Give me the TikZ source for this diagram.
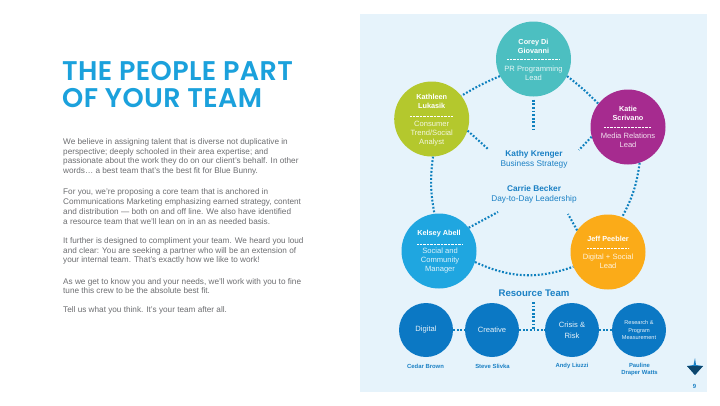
\documentclass[tikz,border=0pt]{standalone}
\usepackage{fontspec}
\setmainfont{Liberation Sans}
\newfontfamily\titlefont[LetterSpace=1.5]{Poppins SemiBold}
\definecolor{panel}{HTML}{E6F3FB}
\definecolor{titleblue}{HTML}{1BA1DC}
\definecolor{bodygray}{HTML}{6D6E71}
\definecolor{linkblue}{HTML}{0E80BE}
\definecolor{labelblue}{HTML}{1A80C4}
\definecolor{cTeal}{HTML}{4CBFC1}
\definecolor{cLime}{HTML}{B4C82D}
\definecolor{cPurple}{HTML}{A62B8F}
\definecolor{cSky}{HTML}{1FA6E0}
\definecolor{cOrange}{HTML}{FBAB18}
\definecolor{cDeep}{HTML}{0B78C4}
\tikzset{
  x=1pt,y=-1pt,
  core/.style={circle,fill=#1,minimum size=75pt,inner sep=0pt},
  res/.style={circle,fill=cDeep,minimum size=54pt,inner sep=0pt,text=white,text opacity=.9,align=center,font=\fontsize{7.6}{11}\selectfont},
  pname/.style={text=white,align=center,inner sep=0pt,font=\fontsize{7.3}{9}\selectfont\bfseries},
  prole/.style={text=white,text opacity=.85,align=center,inner sep=0pt,font=\fontsize{7.6}{9}\selectfont},
  link/.style={draw=linkblue,line width=2.1pt,dash pattern=on 1.8pt off 1.8pt},
  sep/.style={draw=white,line width=0.6pt,dash pattern=on 0.6pt off 0.8pt},
  para/.style={text=bodygray,anchor=west,align=left,inner sep=0pt,font=\fontsize{8.2}{9.75}\selectfont},
  lead/.style={text=labelblue,inner sep=0pt,font=\fontsize{8.3}{10}\selectfont\bfseries},
  leadrole/.style={text=labelblue,inner sep=0pt,font=\fontsize{8.3}{10}\selectfont},
  credit/.style={text=labelblue,align=center,inner sep=0pt,font=\fontsize{5.9}{7}\selectfont\bfseries},
}
\begin{document}
\begin{tikzpicture}
\useasboundingbox (0,0) rectangle (720,405);
\fill[white] (0,0) rectangle (720,405);
\fill[panel] (360,14) rectangle (707,392);

\node[anchor=base west,inner sep=0pt,text=titleblue,font=\titlefont\fontsize{27}{27}\selectfont] (t1) at (62,80.5) {THE PEOPLE PART};
\node[anchor=base west,inner sep=0pt,text=titleblue,font=\titlefont\fontsize{27}{27}\selectfont] (t2) at (62,107) {OF YOUR TEAM};

\node[para] (p1) at (63,157) {We believe in assigning talent that is diverse not duplicative in\\perspective; deeply schooled in their area expertise; and\\passionate about the work they do on our client’s behalf. In other\\words… a best team that’s the best fit for Blue Bunny.};
\node[para] (p2) at (63,206.5) {For you, we’re proposing a core team that is anchored in\\Communications Marketing emphasizing earned strategy, content\\and distribution — both on and off line. We also have identified\\a resource team that we’ll lean on in an as needed basis.};
\node[para] (p3) at (63,251) {It further is designed to compliment your team. We heard you loud\\and clear: You are seeking a partner who will be an extension of\\your internal team. That’s exactly how we like to work!};
\node[para] (p4) at (63,286) {As we get to know you and your needs, we’ll work with you to fine\\tune this crew to be the absolute best fit.};
\node[para] (p5) at (63,310) {Tell us what you think. It’s your team after all.};

% core circles
\node[core=cTeal] (corey) at (533.5,59) {};
\node[core=cLime] (kath) at (431.7,119) {};
\node[core=cPurple] (katie) at (628,127) {};
\node[core=cSky] (kelsey) at (439,251) {};
\node[core=cOrange] (jeff) at (608,252) {};

% free ends
\coordinate (hubN) at (533.5,129);
\coordinate (hubW) at (488,149);
\coordinate (hubE) at (579,150);
\coordinate (hubSW) at (498,212);
\coordinate (hubSE) at (568,214);
\coordinate (resTop) at (533.5,302);
\coordinate (resMid) at (533.5,330);

% connectors
\draw[link] (corey.207) to[bend right=4] (kath.38);
\draw[link] (corey.-27) to[bend left=4] (katie.142);
\draw[link] (corey.south) ++(0,3) -- (hubN);
\draw[link] (kath.-18) -- (hubW);
\draw[link] (katie.195) -- (hubE);
\draw[link] (kath.-88) to[bend right=9] (kelsey.97);
\draw[link] (katie.-72) to[bend left=10] (jeff.68);
\draw[link] (kelsey.38) -- (hubSW);
\draw[link] (jeff.145) -- (hubSE);
\draw[link] (kelsey.-17) to[bend right=22] (jeff.-157);

% core text
\node[pname] (n1) at (533.5,46.5) {Corey Di\\Giovanni};
\draw[sep] (507,59.3) -- (560,59.3);
\node[prole] (r1) at (533.5,73.5) {PR Programming\\Lead};

\node[pname] (n2) at (431.7,101.5) {Kathleen\\Lukasik};
\draw[sep] (410,116.3) -- (453,116.3);
\node[prole] (r2) at (431.7,133.5) {Consumer\\Trend/Social\\Analyst};

\node[pname] (n3) at (628,113.5) {Katie\\Scrivano};
\draw[sep] (604,127.3) -- (651,127.3);
\node[prole] (r3) at (628,140.5) {Media Relations\\Lead};

\node[pname] (n4) at (439,234) {Kelsey Abell};
\draw[sep] (417,244.3) -- (463,244.3);
\node[prole] (r4) at (440,261) {Social and\\Community\\Manager};

\node[pname] (n5) at (608,239) {Jeff Peebler};
\draw[sep] (587,248.3) -- (629,248.3);
\node[prole] (r5) at (608,261.5) {Digital + Social\\Lead};

% leads
\node[lead] (l1) at (534,154) {Kathy Krenger};
\node[leadrole] (l1r) at (534,164) {Business Strategy};
\node[lead] (l2) at (534,189) {Carrie Becker};
\node[leadrole] (l2r) at (534,199) {Day-to-Day Leadership};

\node[text=labelblue,inner sep=0pt,font=\fontsize{9.6}{11}\selectfont\bfseries] (rt) at (534,293) {Resource Team};

% resource circles
\node[res] (digital) at (426,330) {Digital};
\node[res] (creative) at (492,330) {Creative};
\node[res] (crisis) at (572,330) {Crisis \&\\Risk};
\node[res,font=\fontsize{5.6}{7.2}\selectfont] (research) at (639,330) {Research \&\\Program\\Measurement};

\draw[link] (digital) -- (creative);
\draw[link] (creative) -- (crisis);
\draw[link] (crisis) -- (research);
\draw[link] (resTop) -- (resMid);

\node[credit] (c1) at (425.5,366) {Cedar Brown};
\node[credit] (c2) at (492.5,366) {Steve Slivka};
\node[credit] (c3) at (572,366) {Andy Liuzzi};
\node[credit] (c4) at (639.5,369.5) {Pauline\\Draper Watts};

% logo
\fill[labelblue] (687,366) -- (693.5,365) -- (695,358) -- (696,365) -- (703,366) -- (695,375) -- cycle;
\fill[black!45!labelblue] (687,366) -- (703,366) -- (695,375) -- cycle;
\node[text=labelblue,inner sep=0pt,font=\fontsize{6}{7}\selectfont\bfseries] (pg) at (694.5,386) {9};
\end{tikzpicture}
\end{document}
